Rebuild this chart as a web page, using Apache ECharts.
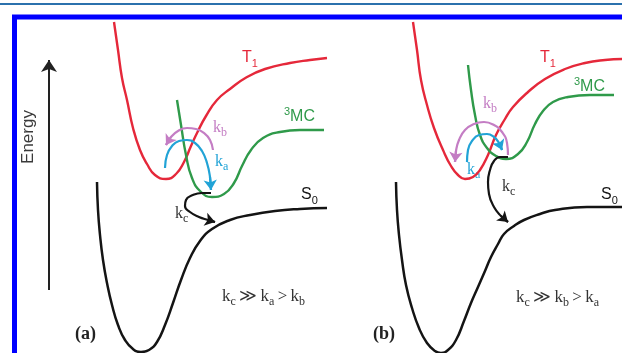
<!DOCTYPE html>
<html>
<head>
<meta charset="utf-8">
<script src="https://cdn.jsdelivr.net/npm/echarts@6.0.0/dist/echarts.min.js"></script>
<style>
  html, body { margin: 0; padding: 0; background: #fff; }
  #chart { width: 622px; height: 353px; }
</style>
</head>
<body>
<div id="chart"></div>
<script>
// curves, [x, y] in picture units (y grows downward)
const t1A = [[114,22],[118,50],[122,78],[127,100],[133,128],[140,150],[147,164],[155,175],[166,179],[176,174],[184,162],[191,146],[198,131],[206,116],[217,100],[230,89],[247,77],[265,69],[290,63],[310,60],[327,58]];
const mcA = [[177,100],[181,125],[186,155],[192,178],[201,192],[212,197],[224,194],[234,183],[242,166],[251,150],[263,138],[280,132],[300,130],[324,130]];
const s0A = [[97,182],[98,210],[100,235],[103,260],[107,283],[112,305],[118,325],[125,340],[133,349],[141,352],[149,350],[157,342],[165,325],[173,303],[181,280],[190,258],[200,241],[212,229],[230,220],[250,215],[275,211],[300,209],[327,208]];

const t1B = [[413,22],[417,50],[421,80],[427,105],[434,128],[443,150],[451,166],[458,175],[465,179],[473,177],[480,170],[488,155],[496,135],[505,119],[513,107],[528,92],[545,79],[565,69],[585,63],[605,60],[622,59]];
const mcB = [[468,65],[471,90],[475,115],[480,135],[487,148],[496,156],[506,159],[518,154],[527,142],[535,124],[543,111],[553,102],[568,97],[590,95],[614,95]];
const s0B = [[396,182],[397,210],[399,235],[402,260],[406,285],[412,308],[419,328],[427,343],[435,351],[441,353],[448,350],[456,340],[464,321],[471,303],[478,287],[485,271],[491,257],[498,244],[504,234],[514,226],[524,220],[540,214],[555,210],[587,207],[622,207]];

// rate arrows
const kbA = [[213,150],[210,140],[204,133],[196,129],[187,128],[178,131],[171,137],[166,145]];
const kaA = [[165,168],[167,155],[172,146],[179,141],[187,140],[195,143],[202,151],[207,163],[210,177],[211,190]];
const kcA = [[211,193],[202,193],[193,195],[186,200],[185,206],[190,212],[199,217],[208,220],[215,222]];

const kbB = [[508,155],[507,143],[502,132],[494,125],[484,122],[474,124],[465,130],[459,140],[456,151],[455,162]];
const kaB = [[467,162],[468,150],[472,141],[479,135],[487,134],[494,137],[499,143],[502,150]];
const kcB = [[508,157],[500,157],[494,161],[490,170],[488,182],[489,194],[494,207],[501,216],[508,222]];

const energyAxis = [[49,290],[49,60]];

const RED = '#e5283a', GREEN = '#2f9a4a', BLACK = '#141414', CYAN = '#21a3d6', PURPLE = '#c47dc4';

function curve(data, color, width) {
    return {
        type: 'line', data: data, smooth: 0.5, showSymbol: false, silent: true,
        lineStyle: { color: color, width: width }
    };
}

function arrow(data, color) {
    const n = data.length;
    return [
        curve(data, color, 2.2),
        {
            type: 'lines', coordinateSystem: 'cartesian2d', silent: true,
            symbol: ['none', 'arrow'], symbolSize: [0, 10],
            lineStyle: { color: color, width: 2.2, opacity: 1 },
            data: [{ coords: [data[n - 2], data[n - 1]] }]
        }
    ];
}

const serif = 'Liberation Serif';
const sans = 'Liberation Sans';

function kRich(color, size) {
    return {
        m: { fontFamily: serif, fontSize: size, lineHeight: 22, fill: color },
        s: { fontFamily: serif, fontSize: 12, lineHeight: 12, verticalAlign: 'bottom', fill: color }
    };
}
function sansRich(color) {
    return {
        m: { fontFamily: sans, fontSize: 16, lineHeight: 22, fill: color },
        s: { fontFamily: sans, fontSize: 11, lineHeight: 11, verticalAlign: 'bottom', fill: color },
        p: { fontFamily: sans, fontSize: 11, lineHeight: 11, verticalAlign: 'top', fill: color }
    };
}
function label(x, y, text, rich) {
    return { type: 'text', x: x, y: y, silent: true, style: { text: text, rich: rich } };
}

const chart = echarts.init(document.getElementById('chart'));
const option = {
    animation: false,
    grid: { left: 0, right: 0, top: 0, bottom: 0 },
    xAxis: { type: 'value', min: 0, max: 622, show: false },
    yAxis: { type: 'value', min: 0, max: 353, inverse: true, show: false },
    series: [
        curve(t1A, RED, 2.4), curve(mcA, GREEN, 2.4), curve(s0A, BLACK, 2.5),
        curve(t1B, RED, 2.4), curve(mcB, GREEN, 2.4), curve(s0B, BLACK, 2.5),
        ...arrow(kbA, PURPLE), ...arrow(kaA, CYAN), ...arrow(kcA, BLACK),
        ...arrow(kbB, PURPLE), ...arrow(kaB, CYAN), ...arrow(kcB, BLACK),
        {
            type: 'lines', coordinateSystem: 'cartesian2d', silent: true,
            symbol: ['none', 'arrow'], symbolSize: [0, 12],
            lineStyle: { color: '#222', width: 2, opacity: 1 },
            data: [{ coords: energyAxis }]
        }
    ],
    graphic: [
        { type: 'line', silent: true, shape: { x1: 0, y1: 4, x2: 622, y2: 4 }, style: { stroke: '#2b71ad', lineWidth: 2 } },
        { type: 'rect', silent: true, shape: { x: 14.5, y: 17, width: 700, height: 400 }, style: { fill: 'none', stroke: '#0000ff', lineWidth: 5 } },
        { type: 'text', x: 28, y: 137, rotation: Math.PI / 2, silent: true,
          style: { text: 'Energy', fontFamily: sans, fontSize: 17, fill: '#3a3a3a', align: 'center', verticalAlign: 'middle' } },

        label(242, 47, '{m|T}{s|1}', sansRich(RED)),
        label(284, 106, '{p|3}{m|MC}', sansRich(GREEN)),
        label(301, 184, '{m|S}{s|0}', sansRich(BLACK)),
        label(540, 47, '{m|T}{s|1}', sansRich(RED)),
        label(574, 76, '{p|3}{m|MC}', sansRich(GREEN)),
        label(601, 184, '{m|S}{s|0}', sansRich(BLACK)),

        label(213, 117, '{m|k}{s|b}', kRich(PURPLE, 16)),
        label(215, 151, '{m|k}{s|a}', kRich(CYAN, 16)),
        label(175, 203, '{m|k}{s|c}', kRich('#333', 16)),
        label(483, 93, '{m|k}{s|b}', kRich(PURPLE, 16)),
        label(467, 159, '{m|k}{s|a}', kRich(CYAN, 16)),
        label(502, 176, '{m|k}{s|c}', kRich('#333', 16)),

        label(222, 286, '{m|k}{s|c} {m|≫} {m|k}{s|a} {m|>} {m|k}{s|b}', kRich('#333', 17)),
        label(516, 287, '{m|k}{s|c} {m|≫} {m|k}{s|b} {m|>} {m|k}{s|a}', kRich('#333', 17)),

        { type: 'text', x: 75, y: 334, silent: true,
          style: { text: '(a)', fontFamily: serif, fontWeight: 'bold', fontSize: 18, fill: '#222', verticalAlign: 'middle' } },
        { type: 'text', x: 373, y: 334, silent: true,
          style: { text: '(b)', fontFamily: serif, fontWeight: 'bold', fontSize: 18, fill: '#222', verticalAlign: 'middle' } }
    ]
};
chart.setOption(option);
</script>
</body>
</html>
